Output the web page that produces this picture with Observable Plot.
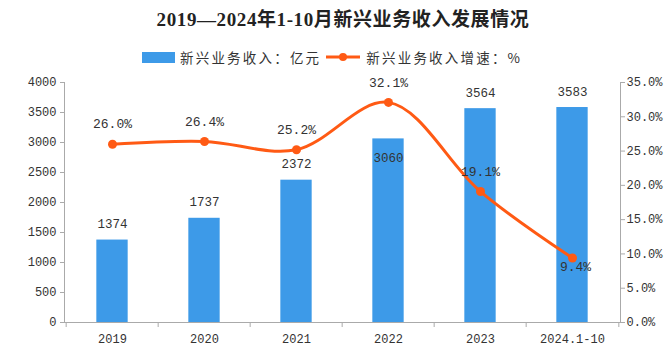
<!DOCTYPE html>
<html>
<head>
<meta charset="utf-8">
<script src="https://cdn.jsdelivr.net/npm/d3@7"></script>
<script src="https://cdn.jsdelivr.net/npm/@observablehq/plot@0.6"></script>
<style>
  html, body { margin: 0; padding: 0; background: #fff; }
  #wrap { position: relative; width: 672px; height: 359px; overflow: hidden; }
  #head { position: relative; width: 672px; height: 72px; }
  #title { position: absolute; left: 0; top: 8px; width: 686px; text-align: center;
    font-family: "Liberation Serif", "Noto Sans CJK SC", serif; font-weight: bold; font-size: 19px; letter-spacing: 0.6px; color: #222; line-height: 24px; }
  #legend { position: absolute; left: 142px; top: 48px; display: flex; align-items: center;
    font-family: "Noto Sans CJK SC", sans-serif; font-size: 13.5px; letter-spacing: 2.2px; color: #333; line-height: 18px; white-space: nowrap; }
  .sw { display: inline-block; }
  svg { display: block; }
</style>
</head>
<body>
<div id="wrap">
  <div id="head">
    <div id="title">2019—2024年1-10月新兴业务收入发展情况</div>
    <div id="legend">
      <span class="sw" style="width:33px;height:11px;background:#3d9ae8;margin-right:5px"></span>
      <span id="l1"></span>
      <svg width="36" height="12" style="margin:0 5px 0 4px"><line x1="1" y1="6" x2="35" y2="6" stroke="#ff5a14" stroke-width="3"/><circle cx="18" cy="6" r="4" fill="#ff5a14"/></svg>
      <span id="l2"></span>
    </div>
  </div>
  <div id="chart"></div>
</div>
<script>
const years = ["2019", "2020", "2021", "2022", "2023", "2024.1-10"];
const revenue = [1374, 1737, 2372, 3060, 3564, 3583];
const growth = [26.0, 26.4, 25.2, 32.1, 19.1, 9.4];
const leftTicks = [0, 500, 1000, 1500, 2000, 2500, 3000, 3500, 4000];
const rightTicks = [0, 5, 10, 15, 20, 25, 30, 35];
const seriesNames = ["新兴业务收入：亿元", "新兴业务收入增速：%"];

document.getElementById("l1").textContent = seriesNames[0];
document.getElementById("l2").textContent = seriesNames[1];

const yMax = 4000, rMax = 35, k = yMax / rMax;
const data = years.map((c, i) => ({ c, v: revenue[i], g: growth[i], gy: growth[i] * k }));

const W = 672, ML = 64, MR = 52;
const bw = (W - ML - MR) / years.length;
const barColor = "#3d9ae8", lineColor = "#ff5a14";

const chart = Plot.plot({
  width: W, height: 287,
  marginTop: 10, marginBottom: 37, marginLeft: ML, marginRight: MR,
  x: { domain: years, padding: 0 },
  y: { domain: [0, yMax] },
  style: { fontFamily: "Liberation Mono, DejaVu Sans Mono, monospace", fontSize: "12px", color: "#333", background: "white" },
  marks: [
    Plot.barY(data, { x: "c", y: "v", fill: barColor, insetLeft: (bw - 32) / 2, insetRight: (bw - 32) / 2 }),
    Plot.frame({ anchor: "left", stroke: "#aaa" }),
    Plot.frame({ anchor: "right", stroke: "#aaa" }),
    Plot.ruleY([0], { stroke: "#aaa" }),
    Plot.axisY({ ticks: leftTicks, tickFormat: d => String(d), tickSize: 4, tickPadding: 4, label: null, stroke: "#aaa", fill: "#333" }),
    Plot.axisY({ anchor: "right", ticks: rightTicks.map(t => t * k), tickFormat: d => (d / k).toFixed(1) + "%", tickSize: 4, tickPadding: 2, label: null, stroke: "#aaa", fill: "#333" }),
    Plot.axisX({ tickSize: 0, tickPadding: 12, label: null, fill: "#333" }),
    Plot.axisX({ tickSize: 5, text: null, dx: -bw / 2, label: null, stroke: "#aaa" }),
    Plot.axisX({ ticks: [years[years.length - 1]], tickSize: 5, text: null, dx: bw / 2, label: null, stroke: "#aaa" }),
    Plot.line(data, { x: "c", y: "gy", curve: "catmull-rom", stroke: lineColor, strokeWidth: 3 }),
    Plot.dot(data, { x: "c", y: "gy", r: 4.5, fill: lineColor }),
    Plot.text(data.filter(d => d.c !== "2022"), { x: "c", y: "v", text: d => String(d.v), dy: -16, fill: "#333", fontSize: 12.5 }),
    Plot.text(data.filter(d => d.c === "2022"), { x: "c", y: "v", text: d => String(d.v), dy: 19, fill: "#333", fontSize: 12.5 }),
    Plot.text(data.filter(d => d.c !== "2024.1-10"), { x: "c", y: "gy", text: d => d.g.toFixed(1) + "%", dy: -20, fill: "#333", fontSize: 13 }),
    Plot.text(data.filter(d => d.c === "2024.1-10"), { x: "c", y: "gy", text: d => d.g.toFixed(1) + "%", dy: 9, dx: 3, fill: "#333", fontSize: 13 })
  ]
});
document.getElementById("chart").appendChild(chart);
</script>
</body>
</html>
